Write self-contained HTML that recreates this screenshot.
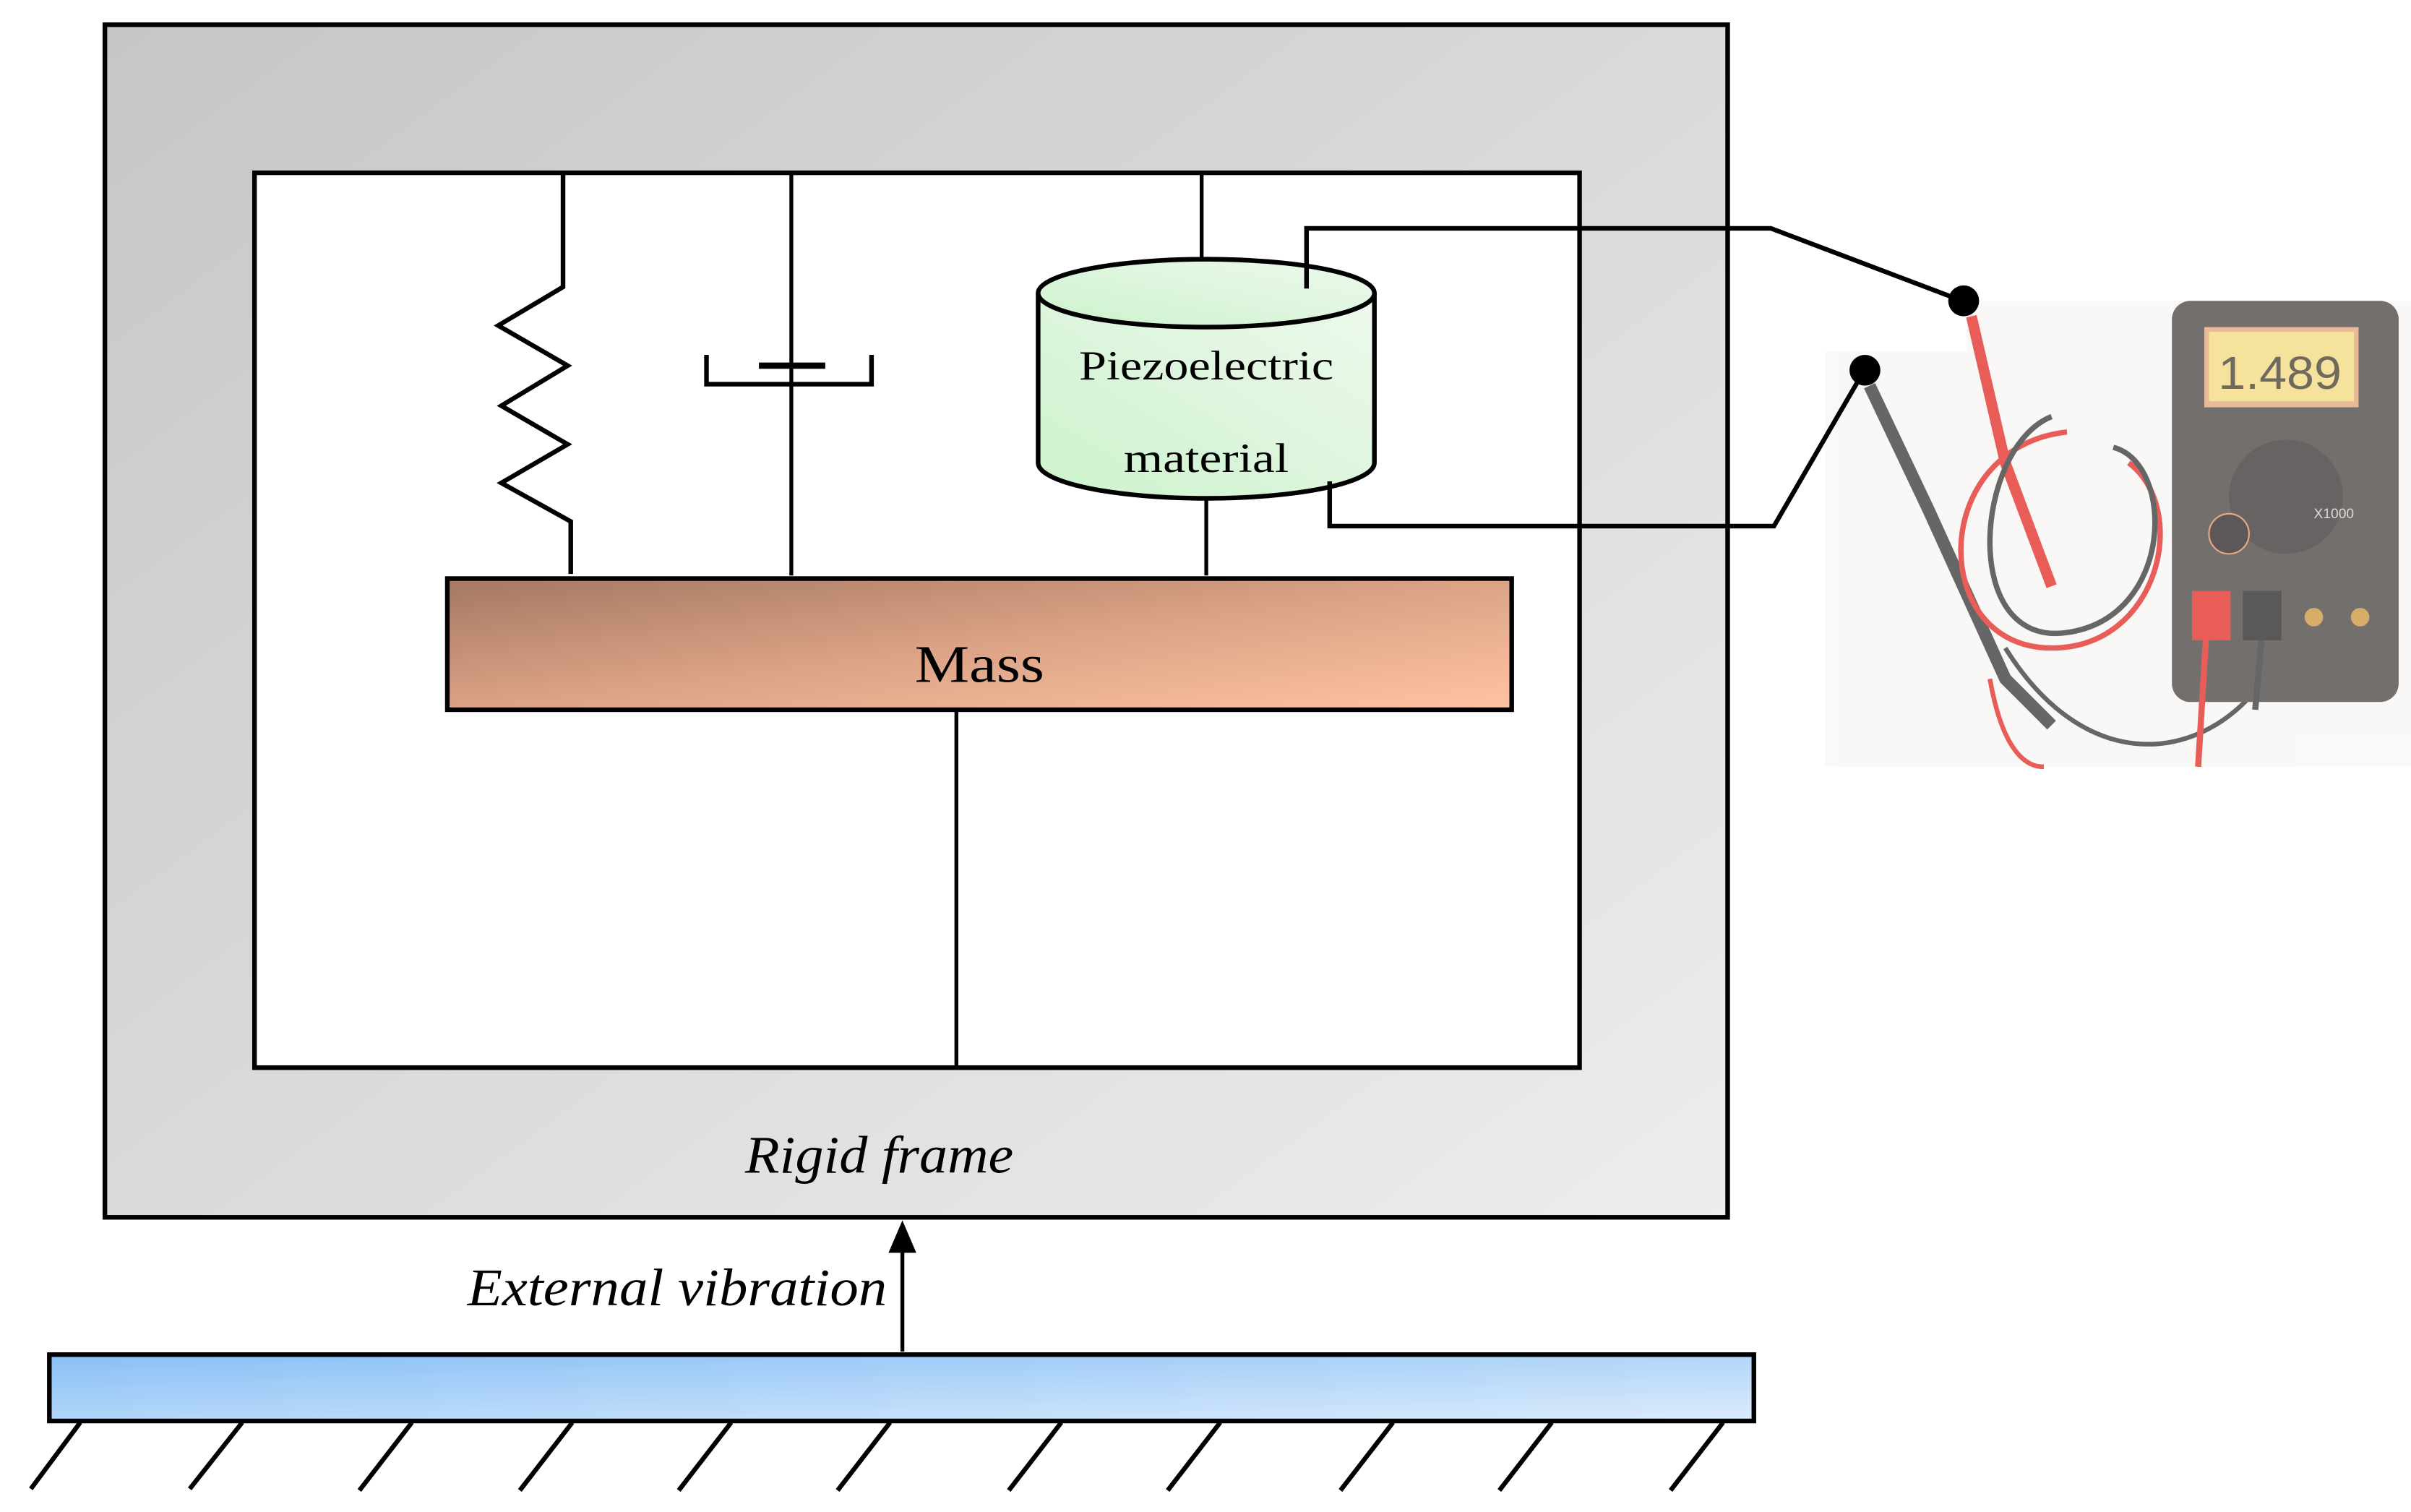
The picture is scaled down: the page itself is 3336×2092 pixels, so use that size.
<!DOCTYPE html>
<html><head><meta charset="utf-8"><style>
html,body{margin:0;padding:0;background:#fff;}
svg{display:block;}
</style></head><body>
<svg width="3336" height="2092" viewBox="0 0 1563 980" preserveAspectRatio="none" xmlns="http://www.w3.org/2000/svg">
<defs>
<linearGradient id="gframe" x1="0" y1="0" x2="1" y2="1"><stop offset="0" stop-color="#c6c6c6"/><stop offset="1" stop-color="#ededed"/></linearGradient>
<linearGradient id="gmass" x1="0" y1="0" x2="1" y2="1"><stop offset="0" stop-color="#a47862"/><stop offset="0.5" stop-color="#dba286"/><stop offset="1" stop-color="#ffc4a2"/></linearGradient>
<linearGradient id="gbase" x1="0" y1="0" x2="1" y2="1"><stop offset="0" stop-color="#88c0f6"/><stop offset="1" stop-color="#dcebfb"/></linearGradient>
<linearGradient id="gpiezo" x1="0" y1="1" x2="1" y2="0"><stop offset="0" stop-color="#ccf2cc"/><stop offset="1" stop-color="#eef9ee"/></linearGradient>
</defs>
<rect x="0" y="0" width="1563" height="980" fill="#fff"/>
<!-- rigid frame -->
<rect x="68" y="16" width="1052" height="773" fill="url(#gframe)" stroke="#000" stroke-width="3"/>
<rect x="165" y="112" width="859" height="580" fill="#fff" stroke="#000" stroke-width="3"/>
<!-- spring -->
<polyline points="365,112 365,186 323,211 368,237 325,263 368,288 325,313 370,338 370,372" fill="none" stroke="#000" stroke-width="3"/>
<!-- damper -->
<line x1="513" y1="112" x2="513" y2="373" stroke="#000" stroke-width="2.5"/>
<line x1="492" y1="237" x2="535" y2="237" stroke="#000" stroke-width="4"/>
<polyline points="458,230 458,249 565,249 565,230" fill="none" stroke="#000" stroke-width="3"/>
<!-- piezo -->
<line x1="779" y1="112" x2="779" y2="170" stroke="#000" stroke-width="2.5"/>
<path d="M673,190 L673,300 A109,23 0 0 0 891,300 L891,190" fill="url(#gpiezo)" stroke="#000" stroke-width="3"/>
<ellipse cx="782" cy="190" rx="109" ry="22" fill="url(#gpiezo)" stroke="#000" stroke-width="3"/>
<text x="782" y="246" font-family="Liberation Serif, serif" font-size="27" text-anchor="middle" textLength="165" lengthAdjust="spacingAndGlyphs">Piezoelectric</text>
<text x="782" y="306" font-family="Liberation Serif, serif" font-size="27" text-anchor="middle" textLength="107" lengthAdjust="spacingAndGlyphs">material</text>
<line x1="782" y1="323" x2="782" y2="373" stroke="#000" stroke-width="2.5"/>
<!-- mass -->
<rect x="290" y="375" width="690" height="85" fill="url(#gmass)" stroke="#000" stroke-width="3"/>
<text x="635" y="442" font-family="Liberation Serif, serif" font-size="34" text-anchor="middle" textLength="84" lengthAdjust="spacingAndGlyphs">Mass</text>
<line x1="620" y1="460" x2="620" y2="692" stroke="#000" stroke-width="2.5"/>
<text x="570" y="760" font-family="Liberation Serif, serif" font-style="italic" font-size="34" text-anchor="middle" textLength="174" lengthAdjust="spacingAndGlyphs">Rigid frame</text>
<!-- arrow -->
<line x1="585" y1="876" x2="585" y2="805" stroke="#000" stroke-width="2.5"/>
<polygon points="585,791 576,812 594,812" fill="#000"/>
<text x="575" y="846" font-family="Liberation Serif, serif" font-style="italic" font-size="34" text-anchor="end" textLength="272" lengthAdjust="spacingAndGlyphs">External vibration</text>
<!-- base -->
<rect x="32" y="878" width="1105" height="43" fill="url(#gbase)" stroke="#000" stroke-width="3"/>
<g stroke="#000" stroke-width="3">
<line x1="52" y1="922" x2="20" y2="965"/><line x1="157" y1="922" x2="123" y2="965"/><line x1="267" y1="922" x2="233" y2="966"/>
<line x1="371" y1="922" x2="337" y2="966"/><line x1="474" y1="922" x2="440" y2="966"/><line x1="577" y1="922" x2="543" y2="966"/>
<line x1="688" y1="922" x2="654" y2="966"/><line x1="791" y1="922" x2="757" y2="966"/><line x1="903" y1="922" x2="869" y2="966"/>
<line x1="1006" y1="922" x2="972" y2="966"/><line x1="1117" y1="922" x2="1083" y2="966"/>
</g>
<!-- multimeter photo approximation -->
<g opacity="0.72">
<rect x="1183" y="228" width="380" height="269" fill="#f7f6f4"/>
<rect x="1275" y="195" width="288" height="40" fill="#f7f6f4"/>
<path d="M1212,250 L1250,330 L1300,440 L1330,470" stroke="#2c2c2c" stroke-width="8" fill="none"/>
<path d="M1278,205 L1300,300 L1330,380" stroke="#e02018" stroke-width="7" fill="none"/>
<path d="M1340,280 C1250,290 1250,420 1330,420 C1400,420 1420,330 1380,300" stroke="#e02018" stroke-width="3.5" fill="none"/>
<path d="M1330,270 C1280,290 1270,420 1340,410 C1410,400 1410,300 1370,290" stroke="#2c2c2c" stroke-width="3.5" fill="none"/>
<path d="M1290,440 C1300,497 1320,497 1325,497" stroke="#e02018" stroke-width="3" fill="none"/>
<path d="M1300,420 C1350,500 1420,495 1460,450" stroke="#2c2c2c" stroke-width="3" fill="none"/>
<rect x="1408" y="195" width="147" height="260" rx="12" fill="#3e3836"/>
<rect x="1429" y="212" width="100" height="52" fill="#e0a070"/>
<rect x="1432" y="215" width="94" height="45" fill="#f0d878"/>
<text x="1478" y="252" font-family="Liberation Sans, sans-serif" font-size="30" text-anchor="middle" fill="#3a3020" textLength="80" lengthAdjust="spacingAndGlyphs">1.489</text>
<circle cx="1482" cy="322" r="37" fill="#2e2826"/>
<circle cx="1445" cy="346" r="13" fill="#201818" stroke="#e08a50" stroke-width="1"/>
<text x="1500" y="336" font-family="Liberation Sans, sans-serif" font-size="9" fill="#cccccc">X1000</text>
<rect x="1421" y="383" width="25" height="32" fill="#e02018"/>
<rect x="1454" y="383" width="25" height="32" fill="#1a1a1a"/>
<circle cx="1500" cy="400" r="6" fill="#c89030"/><circle cx="1530" cy="400" r="6" fill="#c89030"/>
<path d="M1430,415 L1425,497" stroke="#e02018" stroke-width="4"/>
<path d="M1466,415 L1462,460" stroke="#2c2c2c" stroke-width="4"/>
</g>
<!-- wires -->
<polyline points="847,187 847,148 1148,148 1272,195" fill="none" stroke="#000" stroke-width="3"/>
<polyline points="862,312 862,341 1150,341 1208,241" fill="none" stroke="#000" stroke-width="3"/>
<circle cx="1273" cy="195" r="10" fill="#000"/>
<circle cx="1209" cy="240" r="10" fill="#000"/>
</svg>
</body></html>
